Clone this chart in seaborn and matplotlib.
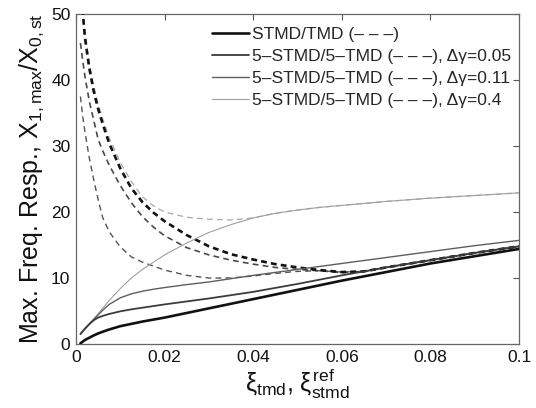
import numpy as np
import pandas as pd
import matplotlib
matplotlib.use("Agg")
import matplotlib.pyplot as plt
import seaborn as sns

# damping ratio grid (xi_tmd / xi_stmd^ref)
xi = [0.001, 0.0015, 0.002, 0.003, 0.004, 0.005, 0.006, 0.0075, 0.01, 0.0125,
      0.015, 0.0175, 0.02, 0.025, 0.03, 0.035, 0.04, 0.045, 0.05, 0.055,
      0.06, 0.065, 0.07, 0.08, 0.09, 0.1]

# solid curves: STMD and 5-STMD
stmd = [0.1, 0.35, 0.6, 0.95, 1.3, 1.6, 1.85, 2.2, 2.7, 3.05,
        3.4, 3.7, 4.0, 4.7, 5.4, 6.1, 6.8, 7.5, 8.2, 8.9,
        9.6, 10.25, 10.9, 12.2, 13.3, 14.4]
stmd5_005 = [1.5, 1.9, 2.3, 3.0, 3.6, 4.0, 4.25, 4.55, 4.95, 5.25,
             5.5, 5.75, 6.0, 6.45, 6.9, 7.4, 7.9, 8.5, 9.1, 9.75,
             10.4, 11.0, 11.6, 12.7, 13.8, 14.8]
stmd5_011 = [1.5, 1.9, 2.3, 3.0, 3.7, 4.4, 5.1, 6.0, 7.0, 7.6,
             8.0, 8.3, 8.55, 9.0, 9.4, 9.9, 10.4, 10.85, 11.3, 11.75,
             12.2, 12.65, 13.1, 14.0, 14.9, 15.7]
stmd5_04 = [1.6, 2.0, 2.4, 3.1, 3.8, 4.6, 5.4, 6.6, 8.4, 10.0,
            11.3, 12.4, 13.5, 15.3, 16.9, 18.1, 19.1, 19.8, 20.3, 20.7,
            21.0, 21.3, 21.6, 22.1, 22.5, 22.9]

# dashed curves: TMD and 5-TMD
tmd = [56.0, 50.5, 46.5, 41.8, 38.3, 35.6, 33.4, 30.4, 26.6, 23.6,
       21.5, 19.9, 18.6, 16.5, 14.8, 13.6, 12.8, 12.1, 11.6, 11.2,
       10.9, 11.0, 11.6, 12.7, 13.8, 14.8]
tmd5_005 = [45.6, 43.0, 40.6, 36.8, 33.9, 31.0, 29.3, 27.1, 24.0, 21.4,
            19.3, 17.7, 16.4, 14.6, 13.5, 12.7, 12.1, 11.6, 11.3, 11.1,
            10.8, 11.0, 11.6, 12.7, 13.8, 14.8]
tmd5_011 = [37.5, 34.6, 32.2, 28.2, 24.9, 21.9, 19.2, 17.0, 14.7, 13.2,
            12.4, 11.8, 11.2, 10.4, 10.0, 10.0, 10.3, 10.7, 11.0, 11.1,
            10.9, 11.0, 11.6, 12.7, 13.8, 14.8]
tmd5_04 = [57.0, 51.2, 47.3, 42.6, 39.1, 36.4, 34.2, 31.2, 27.5, 24.6,
           22.3, 20.9, 20.0, 19.2, 18.9, 18.8, 19.1, 19.8, 20.3, 20.7,
           21.0, 21.3, 21.6, 22.1, 22.5, 22.9]

labels = ["STMD/TMD (\u2013 \u2013 \u2013)",
          "5\u2013STMD/5\u2013TMD (\u2013 \u2013 \u2013), \u0394\u03b3=0.05",
          "5\u2013STMD/5\u2013TMD (\u2013 \u2013 \u2013), \u0394\u03b3=0.11",
          "5\u2013STMD/5\u2013TMD (\u2013 \u2013 \u2013), \u0394\u03b3=0.4"]

x_ticks = [0, 0.02, 0.04, 0.06, 0.08, 0.1]
x_ticklabels = ["0", "0.02", "0.04", "0.06", "0.08", "0.1"]
y_ticks = [0, 10, 20, 30, 40, 50]

sns.set_style("white")
plt.rcParams["font.family"] = ["Liberation Sans", "DejaVu Sans"]
plt.rcParams["mathtext.fontset"] = "custom"
plt.rcParams["mathtext.rm"] = "Liberation Sans"
plt.rcParams["mathtext.it"] = "Liberation Sans"
plt.rcParams["mathtext.bf"] = "Liberation Sans:bold"

fig = plt.figure(figsize=(5.36, 4.08), dpi=100)
ax = fig.add_axes([76 / 536, 64 / 408, 443 / 536, 330 / 408])

solid_series = [stmd, stmd5_005, stmd5_011, stmd5_04]
dash_series = [tmd, tmd5_005, tmd5_011, tmd5_04]
colors = ["#111111", "#3c3c3c", "#5e5e5e", "#a0a0a0"]
widths = [1.9, 1.3, 1.0, 0.8]
dash_colors = ["#111111", "#4a4a4a", "#555555", "#a8a8a8"]
dash_widths = [1.9, 1.2, 1.0, 0.9]

# dashed (TMD) curves, light ones first so the darker lie on top
for i in [3, 2, 1, 0]:
    lw = dash_widths[i]
    df = pd.DataFrame({"xi": xi, "r": dash_series[i]})
    sns.lineplot(data=df, x="xi", y="r", ax=ax, color=dash_colors[i],
                 lw=lw, legend=False, label="_nolegend_",
                 linestyle=(0, (4.2 / lw, 3.0 / lw)), zorder=3 + (3 - i))

# solid (STMD) curves with legend entries
for i in [3, 2, 1, 0]:
    df = pd.DataFrame({"xi": xi, "r": solid_series[i]})
    sns.lineplot(data=df, x="xi", y="r", ax=ax, color=colors[i],
                 lw=widths[i], label=labels[i], zorder=8 + (3 - i))

h, l = ax.get_legend_handles_labels()
order = [l.index(lab) for lab in labels]
ax.legend([h[k] for k in order], [l[k] for k in order],
          loc="upper left", bbox_to_anchor=(0.308, 0.962), frameon=False,
          fontsize=12.5, borderpad=0, borderaxespad=0, handlelength=2.1,
          handletextpad=0.15, labelspacing=0.4)

ax.set_xlim(0, 0.1)
ax.set_ylim(0, 50)
ax.set_xticks(x_ticks)
ax.set_xticklabels(x_ticklabels)
ax.set_yticks(y_ticks)
ax.tick_params(direction="in", length=4, width=0.8, top=True, right=True,
               labelsize=12.5, colors="#555555", labelcolor="#111111", pad=4)
for s in ax.spines.values():
    s.set_color("#666666")
    s.set_linewidth(0.9)

ax.set_ylabel(r"Max. Freq. Resp., X$_{1,\mathrm{max}}$/X$_{0,\mathrm{st}}$",
              fontsize=18, labelpad=4, color="#111111")
ax.set_xlabel(r"$\xi_{\mathrm{tmd}}$, $\xi_{\mathrm{stmd}}^{\mathrm{ref}}$",
              fontsize=18, labelpad=2, color="#111111")

fig.savefig("out.png", dpi=100)
